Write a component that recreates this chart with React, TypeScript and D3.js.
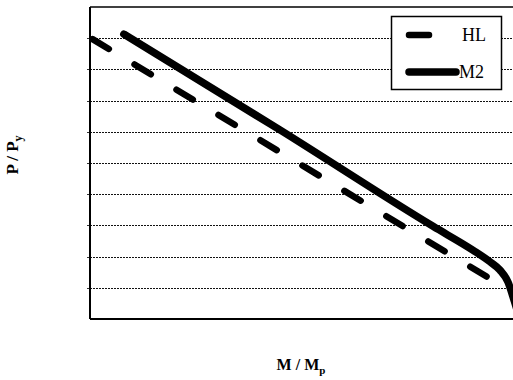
import React, { useEffect, useRef } from 'react';
import * as d3 from 'd3';

// values (M/Mp along x, P/Py along y)
const hlM = [0, 1.0];
const hlP = [0.902, 0.085];
const m2M = [0.08, 0.449, 0.811, 0.905, 0.946, 0.969, 0.988, 1.003, 1.016];
const m2P = [0.913, 0.606, 0.297, 0.221, 0.183, 0.157, 0.119, 0.058, 0];
const gridTicks = [0.1, 0.2, 0.3, 0.4, 0.5, 0.6, 0.7, 0.8, 0.9];
const legendNames = ['HL', 'M2'];

function App() {
  const svgRef = useRef<SVGSVGElement>(null);

  useEffect(() => {
    if (!svgRef.current) return;

    const width = 513;
    const height = 380;
    const margin = { top: 7, right: 0, bottom: 61, left: 90 };
    const font = '"Liberation Serif", "Times New Roman", serif';

    d3.select(svgRef.current).selectAll('*').remove();

    const svg = d3.select(svgRef.current)
      .attr('width', width)
      .attr('height', height)
      .attr('viewBox', `0 0 ${width} ${height}`);

    const x = d3.scaleLinear().domain([0, 1]).range([margin.left, width - margin.right]);
    const y = d3.scaleLinear().domain([0, 1]).range([height - margin.bottom, margin.top]);

    svg.append('rect')
      .attr('width', width)
      .attr('height', height)
      .attr('fill', 'white');

    // dotted grid lines
    svg.append('g')
      .selectAll('line')
      .data(gridTicks)
      .join('line')
      .attr('x1', x(0))
      .attr('x2', x(1))
      .attr('y1', d => Math.round(y(d)) + 0.5)
      .attr('y2', d => Math.round(y(d)) + 0.5)
      .attr('stroke', '#111')
      .attr('stroke-width', 1.2)
      .attr('stroke-dasharray', '2 1');

    // small ticks on the left
    svg.append('g')
      .selectAll('line')
      .data(gridTicks)
      .join('line')
      .attr('x1', x(0) - 3)
      .attr('x2', x(0))
      .attr('y1', d => Math.round(y(d)) + 0.5)
      .attr('y2', d => Math.round(y(d)) + 0.5)
      .attr('stroke', '#333')
      .attr('stroke-width', 1);

    // frame
    svg.append('line')
      .attr('x1', x(0)).attr('x2', x(1))
      .attr('y1', y(1)).attr('y2', y(1))
      .attr('stroke', 'black').attr('stroke-width', 1.5);
    svg.append('line')
      .attr('x1', x(0)).attr('x2', x(1))
      .attr('y1', y(0)).attr('y2', y(0))
      .attr('stroke', 'black').attr('stroke-width', 2);
    svg.append('line')
      .attr('x1', x(0)).attr('x2', x(0))
      .attr('y1', y(1)).attr('y2', y(0))
      .attr('stroke', 'black').attr('stroke-width', 2);

    const line = d3.line<[number, number]>()
      .x(d => x(d[0]))
      .y(d => y(d[1]));

    svg.append('path')
      .attr('d', line(hlM.map((m, i) => [m, hlP[i]]) as [number, number][]))
      .attr('fill', 'none')
      .attr('stroke', 'black')
      .attr('stroke-width', 6.5)
      .attr('stroke-linecap', 'round')
      .attr('stroke-dasharray', '19 30')
      .attr('stroke-dashoffset', -3);

    const curve = d3.line<[number, number]>()
      .x(d => x(d[0]))
      .y(d => y(d[1]))
      .curve(d3.curveMonotoneX);

    svg.append('path')
      .attr('d', curve(m2M.map((m, i) => [m, m2P[i]]) as [number, number][]))
      .attr('fill', 'none')
      .attr('stroke', 'black')
      .attr('stroke-width', 7.5)
      .attr('stroke-linecap', 'round');

    // legend
    const legend = svg.append('g');
    legend.append('rect')
      .attr('x', 391.5)
      .attr('y', 16.5)
      .attr('width', 110)
      .attr('height', 73)
      .attr('fill', 'white')
      .attr('stroke', 'black')
      .attr('stroke-width', 1.5);

    legendNames.forEach((name, i) => {
      const ly = 35 + i * 37;
      legend.append('line')
        .attr('x1', 409)
        .attr('x2', i === 0 ? 429 : 456)
        .attr('y1', ly)
        .attr('y2', ly)
        .attr('stroke', 'black')
        .attr('stroke-width', i === 0 ? 6.5 : 7.5)
        .attr('stroke-linecap', 'round');
      legend.append('text')
        .attr('x', i === 0 ? 462 : 459)
        .attr('y', ly + 6)
        .attr('font-family', font)
        .attr('font-size', '18px')
        .text(name);
    });

    // axis titles
    const yTitle = svg.append('text')
      .attr('transform', 'translate(18,155) rotate(-90)')
      .attr('text-anchor', 'middle')
      .attr('font-family', font)
      .attr('font-size', '17px')
      .attr('font-weight', 'bold');
    yTitle.append('tspan').text('P / P');
    yTitle.append('tspan').attr('dy', 4).attr('font-size', '12px').text('y');

    const xTitle = svg.append('text')
      .attr('x', 301)
      .attr('y', 370)
      .attr('text-anchor', 'middle')
      .attr('font-family', font)
      .attr('font-size', '16px')
      .attr('font-weight', 'bold');
    xTitle.append('tspan').text('M / M');
    xTitle.append('tspan').attr('dy', 4).attr('font-size', '11px').text('p');
  }, []);

  return (
    <div style={{ position: 'absolute', left: 0, top: 0 }}>
      <svg ref={svgRef}></svg>
    </div>
  );
}

export default App;
